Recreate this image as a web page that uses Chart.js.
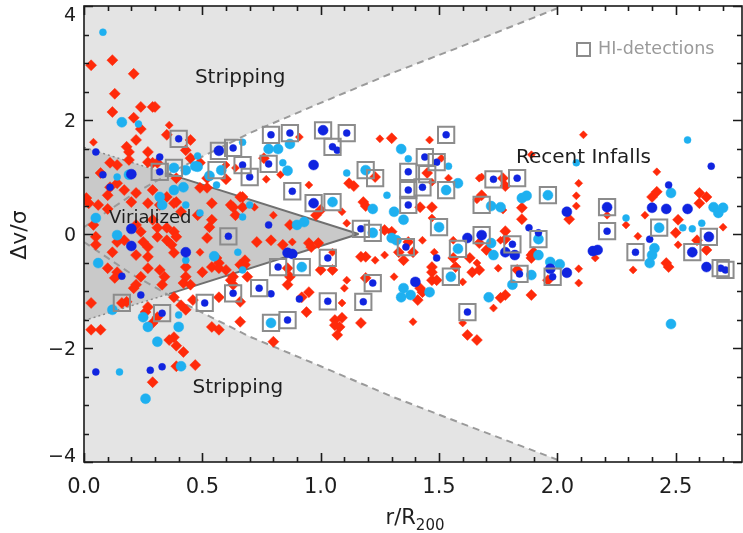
<!DOCTYPE html>
<html>
<head>
<meta charset="utf-8">
<style>
  html, body { margin: 0; padding: 0; background: #fff; }
  #wrap { width: 743px; height: 533px; }
</style>
</head>
<body>
<div id="wrap"><canvas id="phaseChart" width="743" height="533"></canvas></div>
<script src="https://cdn.jsdelivr.net/npm/chart.js@4.4.1/dist/chart.umd.min.js"></script>
<script>
(function () {
  "use strict";

  /* ===== Colors ===== */
  var COLOR_RED = "#ff2a0a";
  var COLOR_CYAN = "#1eb0f0";
  var COLOR_BLUE = "#1024e0";
  var COLOR_HI = "#8c8c8c";
  var COLOR_STRIP_BG = "#e4e4e4";
  var COLOR_VIR_BG = "#c9c9c9";
  var COLOR_DASH = "#9a9a9a";
  var COLOR_EDGE = "#707070";
  var COLOR_TEXT = "#1e1e1e";
  var FONT = "'DejaVu Sans', sans-serif";

  /* ===== Axes ===== */
  var X_MIN = 0, X_MAX = 2.78;
  var Y_MIN = -4, Y_MAX = 4;
  var yTickVals = [4, 2, 0, -2, -4];

  /* ===== Regions ===== */
  var stripX = [0, 0.1, 0.2, 0.4, 0.7, 1.0, 1.3, 1.6, 2.0];
  var stripUpperY = [0.12, 0.40, 0.68, 1.15, 1.77, 2.30, 2.82, 3.30, 3.96];
  var stripLowerY = [-0.14, -0.42, -0.70, -1.17, -1.80, -2.32, -2.85, -3.33, -3.96];
  var virialX = [0, 1.16];
  var virialUpperY = [1.52, 0];
  var virialLowerY = [-1.52, 0];
  var edgeDotX = [0, 0.36];
  var edgeDotUpperY = [1.52, 1.05];
  var edgeDotLowerY = [-1.52, -1.05];
  var edgeSolidX = [0.36, 1.16];
  var edgeSolidUpperY = [1.05, 0];
  var edgeSolidLowerY = [-1.05, 0];

  /* ===== Galaxies [r/R200, dv/sigma] ===== */
  var redBig = [
    [0.03,2.96],[0.12,3.05],[0.21,2.81],[0.13,2.46],[0.24,2.23],[0.29,2.23],[0.30,2.23],[0.12,2.14],
    [0.21,2.04],[0.24,1.84],[0.35,1.74],[0.22,1.65],[0.18,1.53],[0.19,1.44],[0.27,1.44],[0.45,1.65],
    [0.43,1.47],[0.45,1.33],[0.11,1.25],[0.14,1.21],[0.19,1.30],[0.27,1.26],[0.29,1.25],[0.31,1.25],
    [0.49,1.25],[0.07,1.07],[0.39,0.98],[0.49,0.81],[0.29,0.77],[0.14,0.89],[0.17,0.77],[0.11,0.82],
    [0.60,0.96],[0.67,0.65],[0.01,0.63],[0.06,0.51],[0.20,0.56],[0.39,0.56],[0.62,0.51],[0.10,0.68],
    [0.22,0.72],[0.35,0.65],[0.52,0.98],[0.52,0.81],[0.02,0.54],[0.10,0.44],[0.04,0.16],[0.27,0.54],
    [0.32,0.51],[0.38,0.54],[0.41,0.39],[0.48,0.33],[0.54,0.54],[0.63,0.47],[0.67,0.47],[0.64,0.33],
    [0.54,0.25],[0.53,0.12],[0.22,0.16],[0.24,0.04],[0.29,0.25],[0.31,0.11],[0.05,-0.05],[0.05,-0.19],
    [0.14,-0.14],[0.17,-0.11],[0.25,-0.14],[0.27,-0.23],[0.12,-0.32],[0.22,-0.37],[0.27,-0.40],[0.35,0.11],
    [0.38,0.04],[0.39,-0.05],[0.35,-0.11],[0.37,-0.19],[0.38,-0.33],[0.31,-0.05],[0.52,-0.07],[0.56,-0.42],
    [0.57,-0.51],[0.68,-0.46],[0.43,-0.58],[0.50,-0.67],[0.54,-0.58],[0.57,-0.60],[0.60,-0.63],[0.62,-0.81],
    [0.63,-0.75],[0.69,-0.75],[0.43,-0.75],[0.42,-0.86],[0.45,-0.89],[0.27,-0.60],[0.32,-0.63],[0.34,-0.75],
    [0.33,-0.89],[0.14,-0.67],[0.13,-0.77],[0.10,-0.60],[0.24,-0.75],[0.22,-0.89],[0.21,-0.95],[0.18,-1.19],
    [0.27,-1.28],[0.26,-1.37],[0.38,-1.11],[0.41,-1.25],[0.43,-1.33],[0.16,-1.21],[0.31,-1.46],[0.29,-1.56],
    [0.46,-1.16],[0.66,-1.19],[0.57,-1.11],[0.63,-0.89],[0.03,-1.21],[0.03,-1.68],[0.07,-1.68],[0.38,-1.81],
    [0.54,-1.63],[0.57,-1.68],[0.66,-1.54],[0.36,-1.86],[0.39,-1.96],[0.42,-2.07],[0.39,-2.32],[0.47,-2.30],
    [0.29,-2.60],
    [1.30,1.68],[0.76,1.33],[1.23,1.00],[1.45,1.07],[1.12,0.89],[1.14,0.84],[1.68,0.68],[0.66,0.65],
    [1.00,0.42],[0.98,0.33],[1.18,0.56],[1.19,0.49],[1.42,0.47],[1.47,0.47],[0.87,0.16],[1.27,0.07],
    [1.30,0.04],[1.67,-0.16],[1.70,-0.28],[1.63,-0.42],[1.37,-0.14],[1.39,-0.32],[1.33,-0.32],[1.35,-0.46],
    [1.47,-0.58],[1.47,-0.67],[1.56,-0.42],[1.57,-0.58],[0.95,-0.16],[0.99,-0.16],[0.96,-0.23],[0.73,-0.14],
    [0.79,-0.11],[0.84,-0.19],[0.66,-0.54],[0.68,-0.54],[0.86,-0.60],[0.87,-0.75],[0.86,-0.89],[1.00,-0.63],
    [1.05,-0.63],[1.17,-0.40],[1.19,-0.40],[1.19,-0.77],[1.42,-0.95],[1.43,-1.02],[1.41,-1.16],[1.47,-0.81],
    [1.49,-0.81],[1.64,-0.67],[1.67,-0.63],[0.92,-1.11],[0.95,-1.02],[0.94,-1.37],[1.06,-1.51],[1.09,-1.47],
    [1.06,-1.60],[1.08,-1.63],[1.17,-1.56],[1.07,-1.77],[0.80,-1.89],[1.62,-1.77],[1.66,-1.86],[1.77,0.98],
    [1.78,0.84],[2.05,0.26],[1.85,0.46],[1.85,0.26],[2.40,0.65],[2.42,0.74],[2.60,0.72],[2.63,0.65],
    [2.60,0.54],[2.51,0.25],[2.50,0.02],[2.59,-0.11],[2.63,-0.28],[2.46,-0.51],[2.47,-0.58],[1.78,-0.09],
    [1.78,0.05],[1.90,-0.32],[1.89,-0.37],[1.89,-0.42],[1.83,-0.63],[1.96,-0.81],[1.78,-1.07],[1.76,-1.12],
    [1.89,-1.07]
  ];
  var redSmall = [
    [0.91,1.70],[0.36,1.91],[0.04,1.61],[0.60,1.21],[0.64,1.16],[1.25,1.67],[1.46,1.65],[1.51,1.33],
    [0.83,1.04],[1.54,0.98],[1.67,0.98],[0.77,0.96],[1.47,0.91],[1.68,1.00],[0.95,0.86],[1.66,0.60],
    [0.72,0.47],[1.09,0.39],[1.47,0.28],[0.80,0.33],[1.11,0.19],[1.56,-0.11],[1.43,-0.11],[1.48,-0.32],
    [0.88,-0.14],[1.05,-0.32],[1.23,-0.46],[1.27,-0.37],[1.11,-0.81],[1.31,-0.75],[1.60,-0.84],[1.66,-0.51],
    [1.09,-1.21],[1.10,-0.95],[1.39,-1.54],[1.60,-1.56],[2.11,1.74],[1.89,1.39],[2.42,1.09],[2.09,0.89],
    [2.08,0.67],[2.08,0.49],[1.77,0.42],[2.21,0.33],[2.29,0.16],[2.37,0.33],[2.70,0.12],[2.34,-0.04],
    [2.51,-0.19],[2.32,-0.63],[2.16,-0.42],[1.76,-0.11],[1.75,-0.60],[2.09,-0.61],[2.09,-0.86],[1.89,-1.07],
    [1.73,-1.30],[0.49,-0.32]
  ];
  var cyanBig = [
    [0.16,1.96],[0.48,1.18],[0.38,1.16],[0.43,1.12],[0.47,1.19],[0.42,0.82],[0.38,0.77],[0.53,1.02],
    [0.58,1.12],[0.33,0.51],[0.32,0.65],[0.19,1.04],[0.05,0.28],[0.14,-0.02],[0.55,-0.39],[0.06,-0.51],
    [0.12,-1.33],[0.25,-1.46],[0.27,-1.63],[0.40,-1.63],[0.31,-1.89],[0.41,-2.32],[0.26,-2.89],[0.78,1.49],
    [0.82,1.49],[0.87,1.58],[1.34,1.49],[0.86,1.11],[1.19,1.12],[1.05,0.56],[1.22,0.44],[1.31,0.39],
    [1.35,0.25],[0.90,0.16],[0.93,0.21],[1.22,0.02],[1.30,-0.07],[1.32,-0.11],[1.53,0.77],[1.58,0.89],
    [1.50,0.12],[1.58,-0.26],[0.92,-0.58],[1.35,-0.95],[1.34,-1.11],[1.38,-1.07],[1.46,-1.02],[1.55,-0.75],
    [0.79,-1.56],[1.96,0.68],[1.85,0.63],[1.87,0.67],[1.76,0.47],[1.72,0.49],[2.48,0.72],[2.66,0.47],
    [2.70,0.46],[2.68,0.37],[2.43,0.11],[2.41,-0.25],[2.40,-0.37],[2.39,-0.51],[1.72,-0.16],[1.73,-0.37],
    [1.92,-0.09],[1.92,-0.37],[1.97,-0.49],[2.01,-0.53],[1.89,-0.72],[1.81,-0.89],[1.71,-1.11],[2.48,-1.58]
  ];
  var cyanSmall = [
    [0.08,3.54],[0.23,1.93],[0.48,1.37],[0.14,1.00],[0.67,1.61],[0.43,0.51],[0.70,0.51],[0.56,0.86],
    [0.49,0.37],[0.67,0.30],[0.65,-0.32],[0.43,-0.46],[0.67,-0.63],[0.40,-1.42],[0.15,-2.42],[1.37,1.32],
    [1.54,1.19],[0.84,1.25],[1.11,1.07],[1.28,0.68],[2.55,1.65],[2.08,1.25],[2.29,0.28],[2.53,0.11],
    [2.57,0.09],[2.61,0.19]
  ];
  var blueBig = [
    [0.20,1.05],[0.20,0.09],[0.20,-0.21],[0.43,-0.32],[0.97,1.21],[0.86,-0.33],[0.88,-0.35],[1.62,-0.07],
    [1.40,-0.84],[2.04,0.39],[2.40,0.46],[2.46,0.44],[2.55,0.44],[2.63,-0.58],[2.15,-0.30],[2.17,-0.28],
    [1.78,-0.32],[1.82,-0.37],[1.97,-0.61],[2.04,-0.68],[0.57,1.46],[1.01,1.82],[0.97,0.54],[1.68,-0.02],
    [2.21,0.47],[2.57,-0.32],[2.64,-0.05]
  ];
  var blueSmall = [
    [0.05,1.44],[0.32,1.35],[0.08,1.04],[0.11,0.82],[0.16,-0.74],[0.24,-1.07],[0.05,-2.42],[0.28,-2.39],
    [0.33,-2.33],[0.78,0.16],[0.79,-1.05],[0.91,-1.14],[1.07,1.47],[1.49,-0.42],[2.47,0.86],[2.65,1.19],
    [2.39,-0.09],[1.88,0.11],[1.92,0.02],[0.40,1.67],[0.32,1.09],[0.63,1.51],[0.67,1.21],[0.70,1.00],
    [0.79,1.74],[0.87,1.77],[1.11,1.77],[1.05,1.53],[1.53,1.74],[1.44,1.35],[1.49,1.26],[0.78,1.23],
    [1.37,1.09],[0.88,0.75],[1.37,0.77],[1.43,0.82],[1.37,0.51],[1.17,0.09],[0.61,-0.04],[0.82,-0.58],
    [1.03,-0.42],[0.74,-0.95],[1.03,-1.18],[1.18,-1.19],[1.22,-0.86],[0.86,-1.51],[1.62,-1.37],[0.63,-1.04],
    [0.51,-1.21],[0.33,-1.39],[1.73,0.96],[1.83,0.98],[2.21,0.05],[2.33,-0.32],[2.69,-0.60],[2.71,-0.63],
    [1.81,-0.18],[1.84,-0.70],[1.98,-0.75],[1.36,-0.23]
  ];
  var hiDetections = [
    [0.40,1.67],[0.32,1.09],[0.38,1.16],[0.57,1.46],[0.63,1.51],[0.67,1.21],[0.56,1.12],[0.70,1.00],
    [0.79,1.74],[0.87,1.77],[1.01,1.82],[1.11,1.77],[1.05,1.53],[1.53,1.74],[1.44,1.35],[1.49,1.26],
    [0.78,1.23],[1.19,1.12],[1.23,0.98],[1.37,1.09],[1.45,1.05],[0.88,0.75],[0.97,0.54],[1.05,0.56],
    [1.37,0.77],[1.43,0.82],[1.37,0.51],[1.53,0.77],[1.17,0.09],[1.22,0.02],[1.68,-0.02],[1.68,0.51],
    [1.50,0.12],[1.58,-0.26],[1.36,-0.23],[0.61,-0.04],[0.82,-0.58],[0.92,-0.58],[1.03,-0.42],[0.74,-0.95],
    [1.03,-1.18],[1.18,-1.19],[1.22,-0.86],[0.79,-1.56],[0.86,-1.51],[1.62,-1.37],[1.55,-0.75],[0.63,-1.04],
    [0.51,-1.21],[0.33,-1.39],[0.16,-1.21],[1.73,0.96],[1.83,0.98],[1.96,0.68],[2.21,0.47],[2.21,0.05],
    [2.33,-0.32],[2.43,0.11],[2.57,-0.32],[2.64,-0.05],[2.69,-0.60],[2.71,-0.63],[1.81,-0.18],[1.92,-0.09],
    [1.84,-0.70],[1.98,-0.75]
  ];

  /* ===== Labels inside the plot (anchored in data units) ===== */
  var regionLabels = [
    { text: "Stripping", x: 0.66, y: 2.74, size: 20 },
    { text: "Stripping", x: 0.65, y: -2.70, size: 20 },
    { text: "Virialized", x: 0.28, y: 0.28, size: 18 },
    { text: "Recent Infalls", x: 2.11, y: 1.33, size: 20 }
  ];
  var LEGEND_TEXT = "HI-detections";

  function zip(xs, ys) {
    return xs.map(function (x, i) { return { x: x, y: ys[i] }; });
  }
  function pts(arr) {
    return arr.map(function (p) { return { x: p[0], y: p[1] }; });
  }
  function areaSet(data, fill, color, order) {
    return {
      data: data, fill: fill, backgroundColor: color, borderColor: "rgba(0,0,0,0)",
      borderWidth: 0, pointRadius: 0, showLine: true, order: order,
    };
  }
  function lineSet(data, color, width, dash, order) {
    return {
      data: data, fill: false, borderColor: color, borderWidth: width, borderDash: dash,
      pointRadius: 0, showLine: true, order: order,
    };
  }
  function markSet(data, style, color, radius, order) {
    return {
      data: data, showLine: false, pointStyle: style, pointRadius: radius,
      pointBackgroundColor: color, pointBorderColor: color, pointBorderWidth: 0.5, order: order,
    };
  }
  function noPadding(s) {
    s.paddingLeft = 0; s.paddingRight = 0; s.paddingTop = 0; s.paddingBottom = 0;
  }

  /* ===== Frame, inward ticks, texts ===== */
  var decorPlugin = {
    id: "decor",
    afterDatasetsDraw: function (chart) {
      var ctx = chart.ctx, xs = chart.scales.x, ys = chart.scales.y;
      ctx.save();
      ctx.fillStyle = COLOR_TEXT;
      ctx.textAlign = "center";
      ctx.textBaseline = "middle";
      regionLabels.forEach(function (l) {
        ctx.font = l.size + "px " + FONT;
        ctx.fillText(l.text, xs.getPixelForValue(l.x), ys.getPixelForValue(l.y));
      });
      ctx.restore();
    },
    afterDraw: function (chart) {
      var ctx = chart.ctx, a = chart.chartArea, xs = chart.scales.x, ys = chart.scales.y;
      var i, v, p, len;
      ctx.save();
      ctx.strokeStyle = "#1a1a1a";
      ctx.lineWidth = 1.6;
      ctx.strokeRect(a.left, a.top, a.right - a.left, a.bottom - a.top);
      ctx.beginPath();
      for (i = 0; i <= 27; i++) {
        v = i / 10;
        p = Math.round(xs.getPixelForValue(v)) + 0.5;
        len = i % 5 === 0 ? 9 : 5;
        ctx.moveTo(p, a.bottom); ctx.lineTo(p, a.bottom - len);
        ctx.moveTo(p, a.top); ctx.lineTo(p, a.top + len);
      }
      for (i = -8; i <= 8; i++) {
        v = i / 2;
        p = Math.round(ys.getPixelForValue(v)) + 0.5;
        len = i % 4 === 0 ? 9 : 5;
        ctx.moveTo(a.left, p); ctx.lineTo(a.left + len, p);
        ctx.moveTo(a.right, p); ctx.lineTo(a.right - len, p);
      }
      ctx.stroke();

      // y tick labels
      ctx.fillStyle = COLOR_TEXT;
      ctx.font = "19px " + FONT;
      ctx.textAlign = "right";
      ctx.textBaseline = "middle";
      yTickVals.forEach(function (t) {
        var py = ys.getPixelForValue(t) + 2;
        py = Math.max(a.top + 10, Math.min(a.bottom - 5, py));
        ctx.fillText(t < 0 ? "\u2212" + Math.abs(t) : String(t), a.left - 8, py);
      });

      // y title
      ctx.save();
      ctx.translate(20, (a.top + a.bottom) / 2 + 1);
      ctx.rotate(-Math.PI / 2);
      ctx.textAlign = "center";
      ctx.font = "22px " + FONT;
      ctx.fillText("\u0394v/\u03c3", 0, 0);
      ctx.restore();

      // x title with subscript
      ctx.textAlign = "left";
      ctx.textBaseline = "alphabetic";
      ctx.font = "21px " + FONT;
      var mainW = ctx.measureText("r/R").width;
      ctx.font = "15px " + FONT;
      var subW = ctx.measureText("200").width;
      var x0 = (a.left + a.right) / 2 + 2 - (mainW + subW) / 2;
      ctx.font = "21px " + FONT;
      ctx.fillText("r/R", x0, 524);
      ctx.font = "15px " + FONT;
      ctx.fillText("200", x0 + mainW, 530);

      // legend
      ctx.strokeStyle = COLOR_HI;
      ctx.lineWidth = 2;
      ctx.strokeRect(a.right - 165, a.top + 37, 13, 13);
      ctx.fillStyle = "#9a9a9a";
      ctx.font = "17.5px " + FONT;
      ctx.textBaseline = "middle";
      ctx.fillText(LEGEND_TEXT, a.right - 144, a.top + 43);
      ctx.restore();
    },
  };

  var ctx = document.getElementById("phaseChart").getContext("2d");
  new Chart(ctx, {
    type: "line",
    data: {
      datasets: [
        areaSet(zip(stripX, stripUpperY), "end", COLOR_STRIP_BG, 20),
        areaSet(zip(stripX, stripLowerY), "start", COLOR_STRIP_BG, 20),
        areaSet(zip(virialX, virialUpperY), { value: 0 }, COLOR_VIR_BG, 18),
        areaSet(zip(virialX, virialLowerY), { value: 0 }, COLOR_VIR_BG, 18),
        lineSet(zip(stripX, stripUpperY), COLOR_DASH, 2, [7, 5], 16),
        lineSet(zip(stripX, stripLowerY), COLOR_DASH, 2, [7, 5], 16),
        lineSet(zip(edgeDotX, edgeDotUpperY), "#8a8a8a", 1.5, [2, 3], 15),
        lineSet(zip(edgeDotX, edgeDotLowerY), "#8a8a8a", 1.5, [2, 3], 15),
        lineSet(zip(edgeSolidX, edgeSolidUpperY), COLOR_EDGE, 2, [], 15),
        lineSet(zip(edgeSolidX, edgeSolidLowerY), COLOR_EDGE, 2, [], 15),
        markSet(pts(redBig), "rectRot", COLOR_RED, 5.5, 10),
        markSet(pts(redSmall), "rectRot", COLOR_RED, 4, 10),
        markSet(pts(cyanBig), "circle", COLOR_CYAN, 5, 8),
        markSet(pts(cyanSmall), "circle", COLOR_CYAN, 3.5, 8),
        markSet(pts(blueBig), "circle", COLOR_BLUE, 5, 6),
        markSet(pts(blueSmall), "circle", COLOR_BLUE, 3.5, 6),
        {
          data: pts(hiDetections), showLine: false, pointStyle: "rect", pointRadius: 11.5,
          pointBackgroundColor: "rgba(0,0,0,0)", pointBorderColor: COLOR_HI, pointBorderWidth: 2, order: 2,
        },
      ],
    },
    options: {
      responsive: false,
      animation: false,
      events: [],
      layout: { autoPadding: false, padding: { top: 6, right: 1, left: 0, bottom: 0 } },
      plugins: { legend: { display: false }, tooltip: { enabled: false } },
      scales: {
        x: {
          type: "linear",
          min: X_MIN,
          max: X_MAX,
          grid: { display: false, drawTicks: false },
          border: { display: false },
          ticks: {
            stepSize: 0.5,
            includeBounds: false,
            maxRotation: 0,
            padding: 13,
            color: COLOR_TEXT,
            font: { family: FONT, size: 21 },
            callback: function (v) { return Number(v).toFixed(1); },
          },
          afterFit: function (s) { s.height = 71; noPadding(s); },
        },
        y: {
          type: "linear",
          min: Y_MIN,
          max: Y_MAX,
          grid: { display: false, drawTicks: false },
          border: { display: false },
          ticks: { display: false, stepSize: 2 },
          afterFit: function (s) { s.width = 84; noPadding(s); },
        },
      },
    },
    plugins: [decorPlugin],
  });
})();
</script>
</body>
</html>
